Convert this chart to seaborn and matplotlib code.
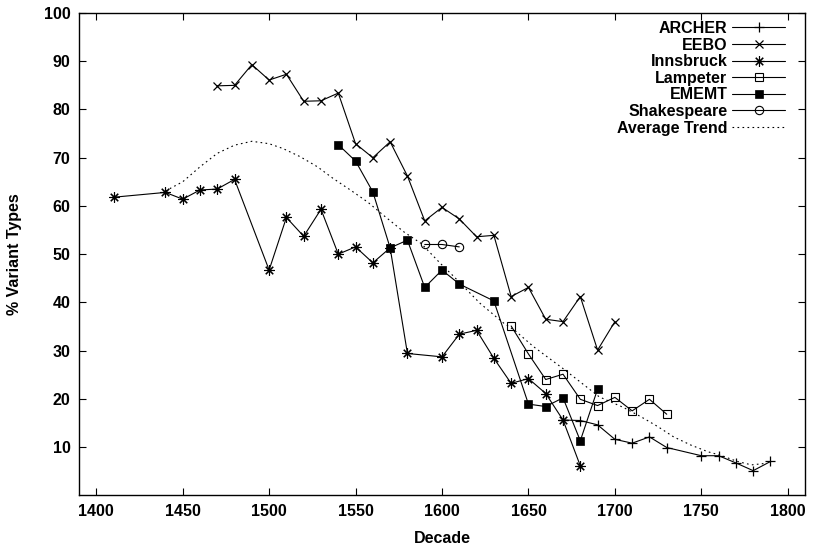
import pandas as pd
import matplotlib
matplotlib.use('Agg')
import matplotlib.pyplot as plt
import seaborn as sns

# values, one list pair per corpus
archer_decades = [1670, 1680, 1690, 1700, 1710, 1720, 1730, 1750, 1760, 1770, 1780, 1790]
archer_pct = [15.6, 15.5, 14.6, 11.6, 10.8, 12.1, 9.9, 8.2, 8.2, 6.7, 5.1, 7.0]

eebo_decades = [1470, 1480, 1490, 1500, 1510, 1520, 1530, 1540, 1550, 1560, 1570, 1580,
                1590, 1600, 1610, 1620, 1630, 1640, 1650, 1660, 1670, 1680, 1690, 1700]
eebo_pct = [84.9, 85.0, 89.3, 86.1, 87.3, 81.7, 81.8, 83.4, 72.9, 70.0, 73.3, 66.2,
            56.9, 59.7, 57.3, 53.6, 53.9, 41.2, 43.1, 36.5, 36.0, 41.2, 30.1, 36.0]

innsbruck_decades = [1410, 1440, 1450, 1460, 1470, 1480, 1500, 1510, 1520, 1530, 1540, 1550,
                     1560, 1570, 1580, 1600, 1610, 1620, 1630, 1640, 1650, 1660, 1670, 1680]
innsbruck_pct = [61.8, 62.8, 61.4, 63.3, 63.5, 65.5, 46.7, 57.6, 53.7, 59.3, 50.0, 51.5,
                 48.2, 51.3, 29.4, 28.7, 33.4, 34.2, 28.4, 23.2, 24.2, 21.1, 15.6, 6.1]

lampeter_decades = [1640, 1650, 1660, 1670, 1680, 1690, 1700, 1710, 1720, 1730]
lampeter_pct = [35.1, 29.3, 24.0, 25.1, 19.9, 18.6, 20.3, 17.5, 19.9, 16.8]

ememt_decades = [1540, 1550, 1560, 1570, 1580, 1590, 1600, 1610, 1630, 1650, 1660, 1670, 1680, 1690]
ememt_pct = [72.7, 69.3, 62.9, 51.3, 52.9, 43.1, 46.7, 43.8, 40.3, 18.9, 18.4, 20.2, 11.3, 22.0]

shakespeare_decades = [1590, 1600, 1610]
shakespeare_pct = [52.0, 52.0, 51.5]

trend_years = [1440, 1450, 1460, 1470, 1480, 1490, 1500, 1508, 1518, 1528, 1537, 1547,
               1557, 1566, 1578, 1588, 1599, 1607, 1622, 1636, 1642, 1653, 1671, 1691,
               1705, 1715, 1725, 1734, 1744, 1754, 1761, 1771, 1779, 1787]
trend_pct = [63.1, 65.0, 68.1, 70.9, 72.6, 73.4, 72.9, 71.9, 70.2, 68.1, 65.7, 63.3,
             60.8, 58.1, 54.6, 52.2, 48.1, 45.3, 39.8, 35.6, 34.2, 30.8, 26.0, 20.4,
             18.2, 16.3, 14.2, 12.1, 10.4, 9.0, 8.3, 7.0, 6.3, 6.6]

corpora = [
    ('ARCHER', archer_decades, archer_pct),
    ('EEBO', eebo_decades, eebo_pct),
    ('Innsbruck', innsbruck_decades, innsbruck_pct),
    ('Lampeter', lampeter_decades, lampeter_pct),
    ('EMEMT', ememt_decades, ememt_pct),
    ('Shakespeare', shakespeare_decades, shakespeare_pct),
]

# marker style per corpus (gnuplot look)
marker_styles = {
    'ARCHER': dict(marker='+', markersize=7, markeredgewidth=0.9),
    'EEBO': dict(marker='x', markersize=6, markeredgewidth=0.9),
    'Innsbruck': dict(marker=(8, 2, 0), markersize=7.5, markeredgewidth=0.8),
    'Lampeter': dict(marker='s', markersize=6, fillstyle='none', markeredgewidth=0.8),
    'EMEMT': dict(marker='s', markersize=6.2, markeredgewidth=0.5, zorder=3),
    'Shakespeare': dict(marker='o', markersize=6, fillstyle='none', markeredgewidth=0.8),
}

sns.set_style('ticks')
plt.rcParams['font.family'] = ['Liberation Sans', 'DejaVu Sans']
plt.rcParams['font.weight'] = 'bold'
plt.rcParams['axes.labelweight'] = 'bold'
plt.rcParams['font.size'] = 11.5
plt.rcParams['text.color'] = 'black'
plt.rcParams['axes.labelcolor'] = 'black'

fig = plt.figure(figsize=(8.14, 5.47), dpi=100)
ax = fig.add_axes([0.097, 0.0946, 0.892, 0.8816])

for name, decades, pct in corpora:
    df = pd.DataFrame({'Decade': decades, 'pct': pct})
    sns.lineplot(data=df, x='Decade', y='pct', color='black', linewidth=0.8,
                 markeredgecolor='black', label=name, ax=ax, **marker_styles[name])

trend_df = pd.DataFrame({'Decade': trend_years, 'pct': trend_pct})
sns.lineplot(data=trend_df, x='Decade', y='pct', color='black', linewidth=0.8,
             linestyle=(0, (1.5, 3)), label='Average Trend', ax=ax)

ax.set_xlim(1390, 1810)
ax.set_ylim(0, 100)
ax.set_xticks(range(1400, 1801, 50))
ax.set_yticks(range(10, 101, 10))
ax.set_xlabel('Decade', fontsize=11.5, fontweight='bold', labelpad=9, color='black')
ax.set_ylabel('% Variant Types', fontsize=11.5, fontweight='bold', labelpad=16, color='black')
ax.tick_params(direction='in', length=5, width=0.8, top=True, right=True,
               labelsize=11.5, pad=6, colors='black')
for lab in ax.get_xticklabels() + ax.get_yticklabels():
    lab.set_fontweight('bold')
for sp in ax.spines.values():
    sp.set_linewidth(1.0)
    sp.set_color('black')

leg = ax.legend(loc='upper right', bbox_to_anchor=(785 / 814, 1 - 21 / 547),
                bbox_transform=fig.transFigure, frameon=False, markerfirst=False,
                handlelength=3.3, handletextpad=0.3, labelspacing=0.1,
                borderpad=0, borderaxespad=0, fontsize=11.5)
for t in leg.get_texts():
    t.set_fontweight('bold')
    t.set_color('black')

fig.savefig('out.png', dpi=100)
